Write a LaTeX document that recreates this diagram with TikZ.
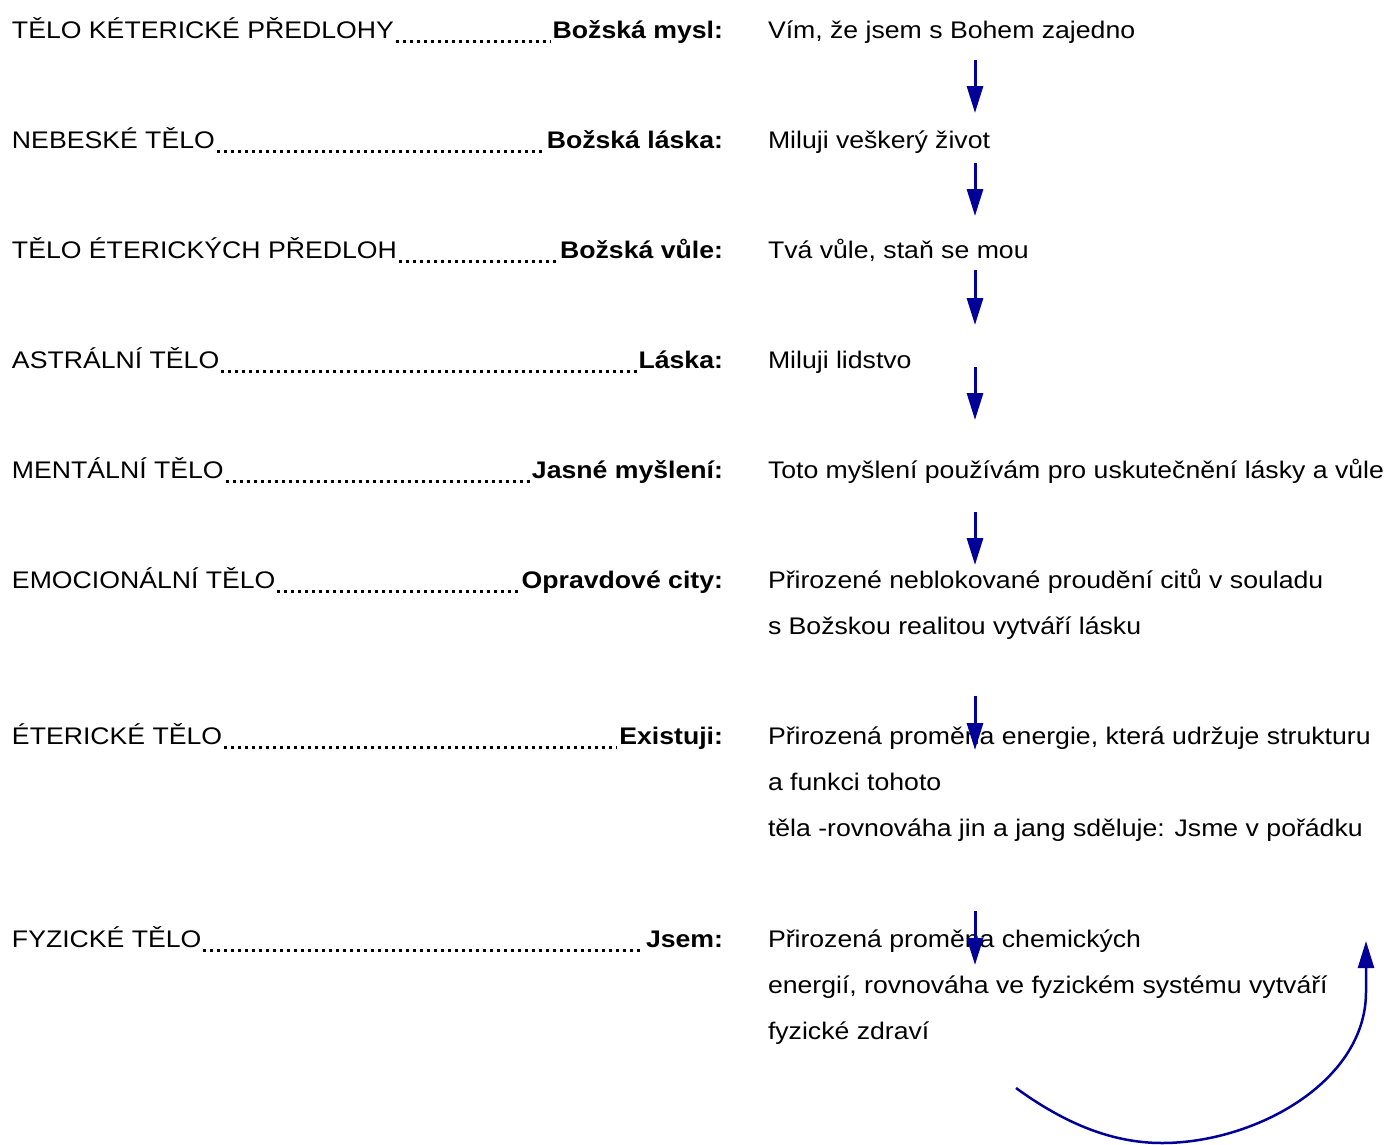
\documentclass[tikz,border=0pt]{standalone}
\usepackage{fontspec}
\setmainfont{Liberation Sans}[FakeStretch=1.11]
\usetikzlibrary{arrows.meta}
\definecolor{arrowblue}{RGB}{0,0,153}
\begin{document}
\begin{tikzpicture}[x=1pt,y=-1pt,
  txt/.style={inner sep=0pt,outer sep=0pt,font=\fontsize{24}{28}\selectfont},
  lefttxt/.style={txt,anchor=base west},
  boldtxt/.style={txt,anchor=base east,font=\fontsize{24}{28}\selectfont\bfseries},
  righttxt/.style={txt,anchor=base west},
  leader/.style={line width=3pt,dash pattern=on 3pt off 4pt},
  downarrow/.style={draw=arrowblue,line width=3pt,-{Triangle[length=27pt,width=16pt]},arrowblue},
  curvearrow/.style={draw=arrowblue,line width=2.5pt,-{Triangle[length=27pt,width=16pt]},arrowblue}
]
\useasboundingbox (0,0) rectangle (1390,1144);

% rows: baselines
\foreach \n/\b/\l/\m/\r in {
  1/38.5/{TĚLO KÉTERICKÉ PŘEDLOHY}/{Božská mysl:}/{Vím, že jsem s Bohem zajedno},
  2/148.5/{NEBESKÉ TĚLO}/{Božská láska:}/{Miluji veškerý život},
  3/258.5/{TĚLO ÉTERICKÝCH PŘEDLOH}/{Božská vůle:}/{Tvá vůle, staň se mou},
  4/368.5/{ASTRÁLNÍ TĚLO}/{Láska:}/{Miluji lidstvo},
  5/478.5/{MENTÁLNÍ TĚLO}/{Jasné myšlení:}/{Toto myšlení používám pro uskutečnění lásky a vůle},
  6/588.5/{EMOCIONÁLNÍ TĚLO}/{Opravdové city:}/{Přirozené neblokované proudění citů v souladu},
  7/744/{ÉTERICKÉ TĚLO}/{Existuji:}/{Přirozená proměna energie, která udržuje strukturu},
  8/947/{FYZICKÉ TĚLO}/{Jsem:}/{Přirozená proměna chemických}
}{
  \node[lefttxt] (L\n) at (12,\b) {\l};
  \node[boldtxt] (B\n) at (723,\b) {\m};
  \node[righttxt] (R\n) at (768,\b) {\r};
  \draw[leader] ([xshift=2pt,yshift=-3pt]L\n.base east) -- ([xshift=-2pt,yshift=-3pt]B\n.base west);
}

% continuation lines
\node[righttxt] (R6b) at (768,634.5) {s Božskou realitou vytváří lásku};
\node[righttxt] (R7b) at (768,790) {a funkci tohoto};
\node[righttxt] (R7c) at (768,836) {těla -rovnováha jin a jang sděluje: Jsme v pořádku};
\node[righttxt] (R8b) at (768,993) {energií, rovnováha ve fyzickém systému vytváří};
\node[righttxt] (R8c) at (768,1039) {fyzické zdraví};

% vertical arrows
\foreach \i/\s/\e in {1/60/113, 2/163/216, 3/270/325, 4/367/420, 5/512/565, 6/696/750, 7/911/965}{
  \coordinate (as\i) at (975,\s);
  \coordinate (ae\i) at (975,\e);
  \draw[downarrow] (as\i) -- (ae\i);
}

% curved return arrow
\coordinate (cstart) at (1016,1088);
\coordinate (cbottom) at (1162,1143);
\coordinate (cjoin) at (1366,992);
\coordinate (ctip) at (1366,941);
\draw[curvearrow] (cstart) .. controls (1060,1120) and (1108,1143) .. (cbottom)
  .. controls (1255,1143) and (1366,1082) .. (cjoin) -- (ctip);
\end{tikzpicture}
\end{document}
